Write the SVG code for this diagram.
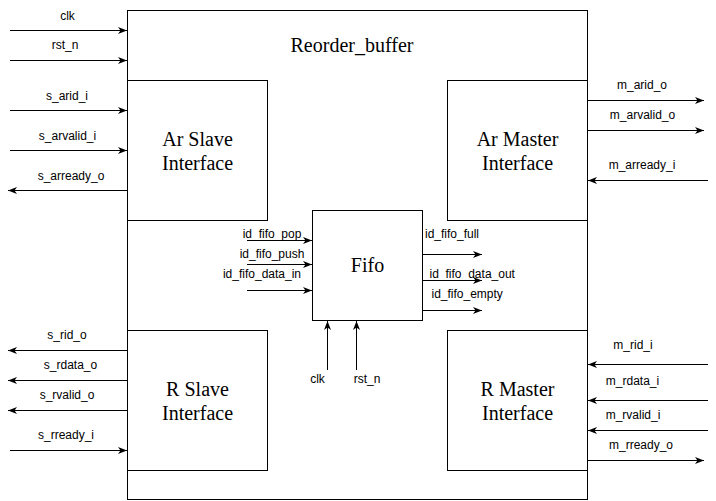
<svg xmlns="http://www.w3.org/2000/svg" width="716" height="501" viewBox="0 0 716 501">
<defs>
<marker id="arr" markerUnits="userSpaceOnUse" markerWidth="10" markerHeight="8" refX="9" refY="4" orient="auto">
<path d="M0,0.5 L9,4 L0,7.5 L2.5,4 Z" fill="#000"/>
</marker>
<style>
.box{fill:#fff;stroke:#000;stroke-width:1}
.big{font-family:"Liberation Serif","Times New Roman",serif;font-size:20px;fill:#000;text-anchor:middle}
.lbl{font-family:"Liberation Sans",Arial,sans-serif;font-size:12px;fill:#000}
.c{text-anchor:middle}
.w{stroke:#000;stroke-width:1;fill:none;marker-end:url(#arr)}
</style>
</defs>
<rect width="716" height="501" fill="#fff"/>
<g id="reorder_buffer">
<rect class="box" x="127.5" y="10.5" width="460" height="489"/>
<text class="big" x="352" y="52">Reorder_buffer</text>
</g>
<g id="ar_slave">
<rect class="box" x="127.5" y="80.5" width="140" height="140"/>
<text class="big" x="197.5" y="146">Ar Slave</text>
<text class="big" x="197.5" y="170">Interface</text>
</g>
<g id="ar_master">
<rect class="box" x="447.5" y="80.5" width="140" height="140"/>
<text class="big" x="517.5" y="146">Ar Master</text>
<text class="big" x="517.5" y="170">Interface</text>
</g>
<g id="r_slave">
<rect class="box" x="127.5" y="330.5" width="140" height="140"/>
<text class="big" x="197.5" y="396">R Slave</text>
<text class="big" x="197.5" y="420">Interface</text>
</g>
<g id="r_master">
<rect class="box" x="447.5" y="330.5" width="140" height="140"/>
<text class="big" x="517.5" y="396">R Master</text>
<text class="big" x="517.5" y="420">Interface</text>
</g>
<g id="fifo">
<rect class="box" x="312.5" y="210.5" width="110" height="110"/>
<text class="big" x="367.5" y="272">Fifo</text>
</g>
<g id="connectors">
<path class="w" d="M10,30.5 H127"/>
<path class="w" d="M10,60.5 H127"/>
<path class="w" d="M10,110.5 H127"/>
<path class="w" d="M10,150.5 H127"/>
<path class="w" d="M127,190.5 H8"/>
<path class="w" d="M127,350.5 H8"/>
<path class="w" d="M127,380.5 H8"/>
<path class="w" d="M127,410.5 H8"/>
<path class="w" d="M10,450.5 H127"/>
<path class="w" d="M587,100.5 H704"/>
<path class="w" d="M587,130.5 H704"/>
<path class="w" d="M708,180.5 H588"/>
<path class="w" d="M708,364.5 H588"/>
<path class="w" d="M708,400.5 H588"/>
<path class="w" d="M708,430.5 H588"/>
<path class="w" d="M587,460.5 H704"/>
<path class="w" d="M247,240.5 H312"/>
<path class="w" d="M247,264.5 H312"/>
<path class="w" d="M247,290.5 H312"/>
<path class="w" d="M423,254.5 H482"/>
<path class="w" d="M423,280.5 H482"/>
<path class="w" d="M423,310.5 H482"/>
<path class="w" d="M327.5,370 V321"/>
<path class="w" d="M356.5,370 V321"/>
</g>
<g id="labels">
<text class="lbl c" x="67.5" y="19.5">clk</text>
<text class="lbl c" x="65" y="49">rst_n</text>
<text class="lbl c" x="67" y="99.5">s_arid_i</text>
<text class="lbl c" x="67.5" y="139.5">s_arvalid_i</text>
<text class="lbl c" x="71" y="179.5">s_arready_o</text>
<text class="lbl c" x="67" y="339">s_rid_o</text>
<text class="lbl c" x="70.5" y="369">s_rdata_o</text>
<text class="lbl c" x="67" y="399">s_rvalid_o</text>
<text class="lbl c" x="66" y="439">s_rready_i</text>
<text class="lbl c" x="642" y="89">m_arid_o</text>
<text class="lbl c" x="642.5" y="119">m_arvalid_o</text>
<text class="lbl c" x="642" y="169">m_arready_i</text>
<text class="lbl c" x="633" y="349">m_rid_i</text>
<text class="lbl c" x="632.5" y="385">m_rdata_i</text>
<text class="lbl c" x="633" y="419">m_rvalid_i</text>
<text class="lbl c" x="641" y="449">m_rready_o</text>
<text class="lbl c" x="272" y="238">id_fifo_pop</text>
<text class="lbl c" x="272" y="258">id_fifo_push</text>
<text class="lbl c" x="262" y="278">id_fifo_data_in</text>
<text class="lbl" x="425" y="238">id_fifo_full</text>
<text class="lbl" x="429.5" y="278">id_fifo_data_out</text>
<text class="lbl" x="431.5" y="298">id_fifo_empty</text>
<text class="lbl c" x="317.5" y="383">clk</text>
<text class="lbl c" x="367" y="383">rst_n</text>
</g>
</svg>
